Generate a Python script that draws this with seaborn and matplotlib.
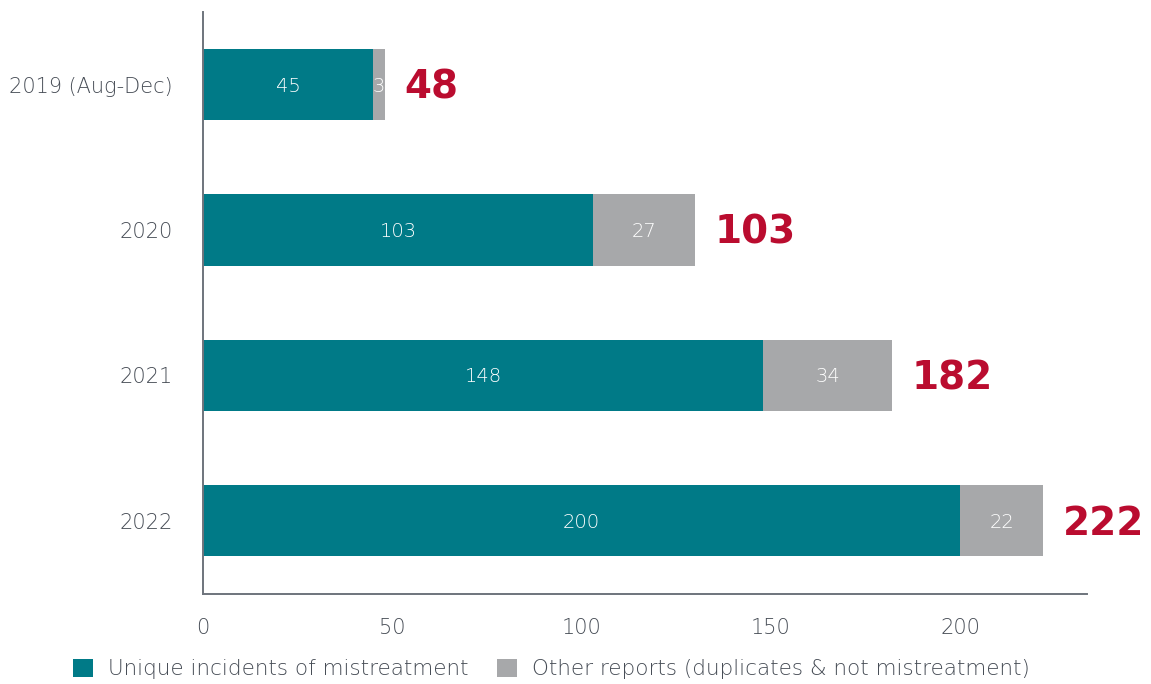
import matplotlib
matplotlib.use("Agg")
import matplotlib.pyplot as plt
from matplotlib.patches import Patch
import seaborn as sns
import pandas as pd

years = ["2019 (Aug-Dec)", "2020", "2021", "2022"]
unique_incidents = [45, 103, 148, 200]
other_reports = [3, 27, 34, 22]
total_labels = [48, 103, 182, 222]
x_ticks = [0, 50, 100, 150, 200]

TEAL = "#007A87"
GREY = "#A7A8AA"
RED = "#BA0C2F"
TEXT = "#464C55"
AXIS = "#6E747C"

sns.set_theme(style="white")
plt.rcParams["font.family"] = ["DejaVu Sans"]
plt.rcParams["font.weight"] = "light"

df = pd.DataFrame({
    "year": years,
    "unique": unique_incidents,
    "other": other_reports,
})
df["stacked"] = df["unique"] + df["other"]

fig = plt.figure(figsize=(11.51, 6.84), dpi=100)
ax = fig.add_axes([0.1764, 0.1316, 0.9444 - 0.1764, 0.9825 - 0.1316])

# grey segment sits underneath, full stacked length; teal drawn over it
sns.barplot(data=df, x="stacked", y="year", orient="h", color=GREY,
            width=0.49, saturation=1, linewidth=0, ax=ax)
sns.barplot(data=df, x="unique", y="year", orient="h", color=TEAL,
            width=0.49, saturation=1, linewidth=0, ax=ax)

for i, row in df.iterrows():
    ax.text(row["unique"] / 2, i + 0.01, f"{row['unique']}", ha="center",
            va="center", color="white", fontsize=14, fontweight="light")
    ax.text(row["unique"] + row["other"] / 2, i + 0.01, f"{row['other']}",
            ha="center", va="center", color="white", fontsize=14,
            fontweight="light")
    ax.annotate(f"{total_labels[i]}", xy=(row["stacked"], i + 0.02),
                xytext=(14, 0), textcoords="offset points",
                ha="left", va="center", color=RED, fontsize=28,
                fontweight="heavy")

ax.set_xlim(0, 233.5)
ax.set_ylim(3.505, -0.5)
ax.set_xticks(x_ticks)
ax.set_xlabel("")
ax.set_ylabel("")
ax.tick_params(axis="both", length=0, labelsize=15, labelcolor=TEXT)
ax.tick_params(axis="x", pad=17)
ax.tick_params(axis="y", pad=22)
for lbl in ax.get_xticklabels() + ax.get_yticklabels():
    lbl.set_fontweight("light")
for side in ["top", "right"]:
    ax.spines[side].set_visible(False)
for side in ["left", "bottom"]:
    ax.spines[side].set_color(AXIS)
    ax.spines[side].set_linewidth(1.4)

handles = [Patch(facecolor=TEAL, edgecolor="none"),
           Patch(facecolor=GREY, edgecolor="none")]
fig.legend(handles,
           ["Unique incidents of mistreatment",
            "Other reports (duplicates & not mistreatment)"],
           loc="center", bbox_to_anchor=(0.479, 0.022), ncol=2, frameon=False,
           prop={"size": 15.5, "weight": "light"}, labelcolor=TEXT,
           handlelength=0.95, handleheight=0.95,
           handletextpad=0.7, columnspacing=1.3)

fig.savefig("out.png", dpi=100)
